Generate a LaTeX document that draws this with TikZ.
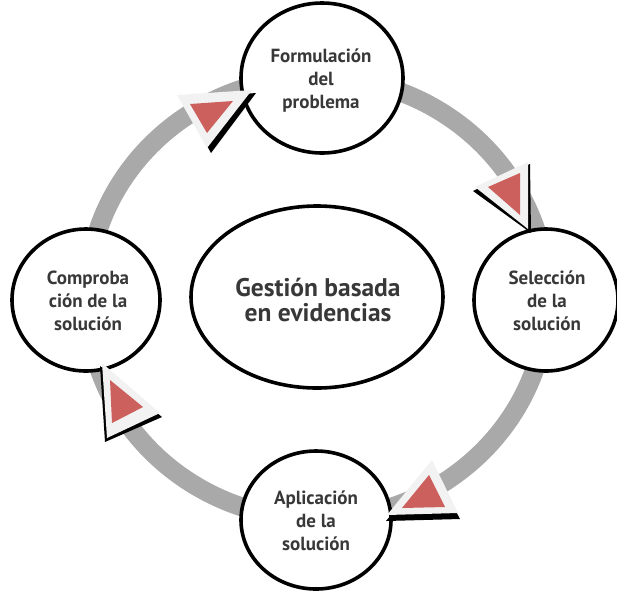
\documentclass[tikz,border=0pt]{standalone}
\usepackage{fontspec}
\setmainfont{PT Sans}
\begin{document}
\begin{tikzpicture}[x=1pt,y=-1pt,
  circ/.style={draw=black,line width=3.6pt,fill=white},
  lbl/.style={font=\bfseries\fontsize{19}{23}\selectfont,text=txtgray,align=center},
  ring/.style={draw=ringgray,line width=19pt},
  tshadow/.style={fill=black},
  touter/.style={fill=tribg},
  tinner/.style={fill=trired}]
\definecolor{ringgray}{HTML}{A9A9A9}
\definecolor{txtgray}{HTML}{383838}
\definecolor{tribg}{HTML}{F2F2F2}
\definecolor{trired}{HTML}{CC605C}
\useasboundingbox (0,0) rectangle (617,598);
% ring
\coordinate (rc) at (317,298);
\draw[ring] (rc) ellipse[x radius=230,y radius=221];
% circles
\draw[circ] (322,78) ellipse[x radius=81,y radius=75];
\draw[circ] (546,300) ellipse[x radius=72,y radius=71];
\draw[circ] (86,300) ellipse[x radius=74,y radius=71];
\draw[circ] (316,520) ellipse[x radius=75,y radius=69];
\draw[circ] (317,297) ellipse[x radius=126,y radius=91];
% labels
\node[lbl] (top) at (321,81) {Formulación\\del\\problema};
\node[lbl] (right) at (547,301) {Selección\\de la\\solución};
\node[lbl] (left) at (88,301) {Comproba\\ción de la\\solución};
\node[lbl] (bottom) at (316,521) {Aplicación\\de la\\solución};
\node[font=\bfseries\fontsize{25.5}{25}\selectfont,text=txtgray,align=center] (center) at (318,300) {Gestión basada\\en evidencias};
% arrow 1 (top-left)
\fill[tshadow] (181,99) -- (256,93) -- (211,153) -- cycle;
\fill[touter] (177,95) -- (252,90) -- (207,148) -- cycle;
\fill[tinner] (190,104) -- (233,101) -- (207,133) -- cycle;
% arrow 2 (top-right)
\fill[tshadow] (473,191) -- (530,164) -- (531,233) -- cycle;
\fill[touter] (475,187) -- (528,162) -- (528,229) -- cycle;
\fill[tinner] (488,187) -- (520,173) -- (520,215) -- cycle;
% arrow 3 (bottom-right)
\fill[tshadow] (386,521) -- (432,466) -- (460,519) -- cycle;
\fill[touter] (387,515) -- (432,460) -- (458,513) -- cycle;
\fill[tinner] (402,508) -- (429,475) -- (445,507) -- cycle;
% arrow 4 (bottom-left)
\fill[tshadow] (100,366) -- (105,442) -- (162,417) -- cycle;
\fill[touter] (102,363) -- (107,438) -- (160,413) -- cycle;
\fill[tinner] (110,380) -- (112,423) -- (143,407) -- cycle;
\end{tikzpicture}
\end{document}
